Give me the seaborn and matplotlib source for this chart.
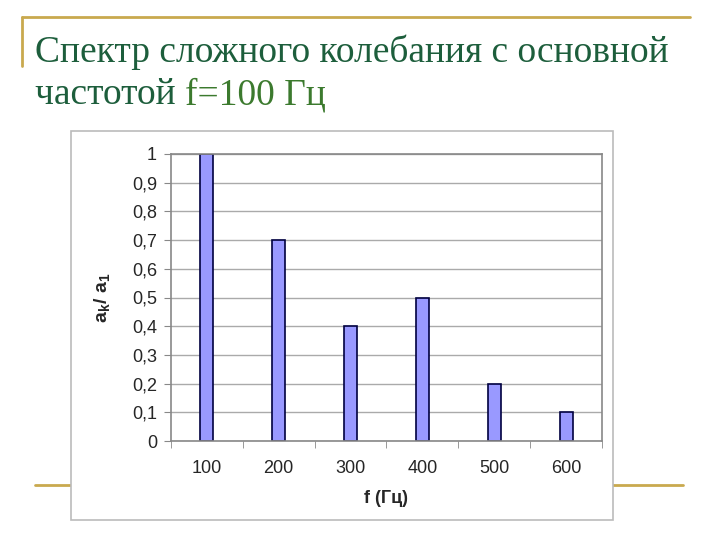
import numpy as np
import pandas as pd
import matplotlib
matplotlib.use('Agg')
import matplotlib.pyplot as plt
import seaborn as sns
from matplotlib.lines import Line2D
from matplotlib.patches import Rectangle
from matplotlib.ticker import FixedLocator, FuncFormatter

# --- данные ---
freqs = ['100', '200', '300', '400', '500', '600']
ratios = [1.0, 0.7, 0.4, 0.5, 0.2, 0.1]
y_ticks = [0, 0.1, 0.2, 0.3, 0.4, 0.5, 0.6, 0.7, 0.8, 0.9, 1.0]

sns.set_style('white')
plt.rcParams['font.family'] = ['Liberation Sans', 'DejaVu Sans']

df = pd.DataFrame({'f': freqs, 'ratio': ratios})

fig = plt.figure(figsize=(7.2, 5.4), dpi=100)
gold = '#C9A94E'

# декоративные линии слайда
fig.add_artist(Line2D([22/720, 690/720], [1-17/540, 1-17/540], color=gold, lw=2))
fig.add_artist(Line2D([22/720, 22/720], [1-17/540, 1-66/540], color=gold, lw=2))
fig.add_artist(Line2D([35/720, 683/720], [1-485/540, 1-485/540], color=gold, lw=2))

# рамка диаграммы
fig.add_artist(Rectangle((71/720, 1-520/540), (613-71)/720, (520-131)/540,
                         transform=fig.transFigure, facecolor='white',
                         edgecolor='#BBBBBB', lw=1.2, zorder=2))

# заголовок
fig.text(35/720, 1-62/540, 'Спектр сложного колебания с основной',
         family='Liberation Serif', fontsize=27, color='#1D5E3C', va='baseline')
t = fig.text(35/720, 1-104/540, 'частотой ', family='Liberation Serif',
             fontsize=27, color='#1D5E3C', va='baseline')
fig.canvas.draw()
bb = t.get_window_extent()
fig.text(bb.x1/720, 1-104/540, 'f=100 Гц', family='Liberation Serif',
         fontsize=27, color='#3C7A2E', va='baseline')

ax = fig.add_axes([171/720, 1-441/540, (602-171)/720, (441-154)/540], zorder=3)
sns.barplot(data=df, x='f', y='ratio', ax=ax, width=0.18,
            color='#9999FF', edgecolor='#000040', linewidth=1.2, saturation=1)

ax.set_ylim(0, 1)
ax.set_xlim(-0.5, len(freqs) - 0.5)
ax.yaxis.set_major_locator(FixedLocator(y_ticks))
ax.yaxis.set_major_formatter(FuncFormatter(lambda v, p: ('%g' % round(v, 1)).replace('.', ',')))
ax.grid(axis='y', color='#AAAAAA', lw=1)
ax.set_axisbelow(True)
for s in ax.spines.values():
    s.set_color('#888888')
    s.set_linewidth(1.2)

ax.tick_params(axis='y', which='major', length=5, color='#888888', labelsize=13, pad=5, direction='out', left=True)
ax.set_xticks(np.arange(-0.5, len(freqs)), minor=True)
ax.tick_params(axis='x', which='major', length=0, labelsize=13, pad=14)
ax.tick_params(axis='x', which='minor', length=5, color='#888888', direction='out', bottom=True)

ax.set_xlabel('f (Гц)', fontsize=13, fontweight='bold', labelpad=9)
ax.set_ylabel(r'a$_\mathregular{k}$/ a$_\mathregular{1}$', fontsize=14, fontweight='bold', labelpad=14)

fig.savefig('out.png', dpi=100)
